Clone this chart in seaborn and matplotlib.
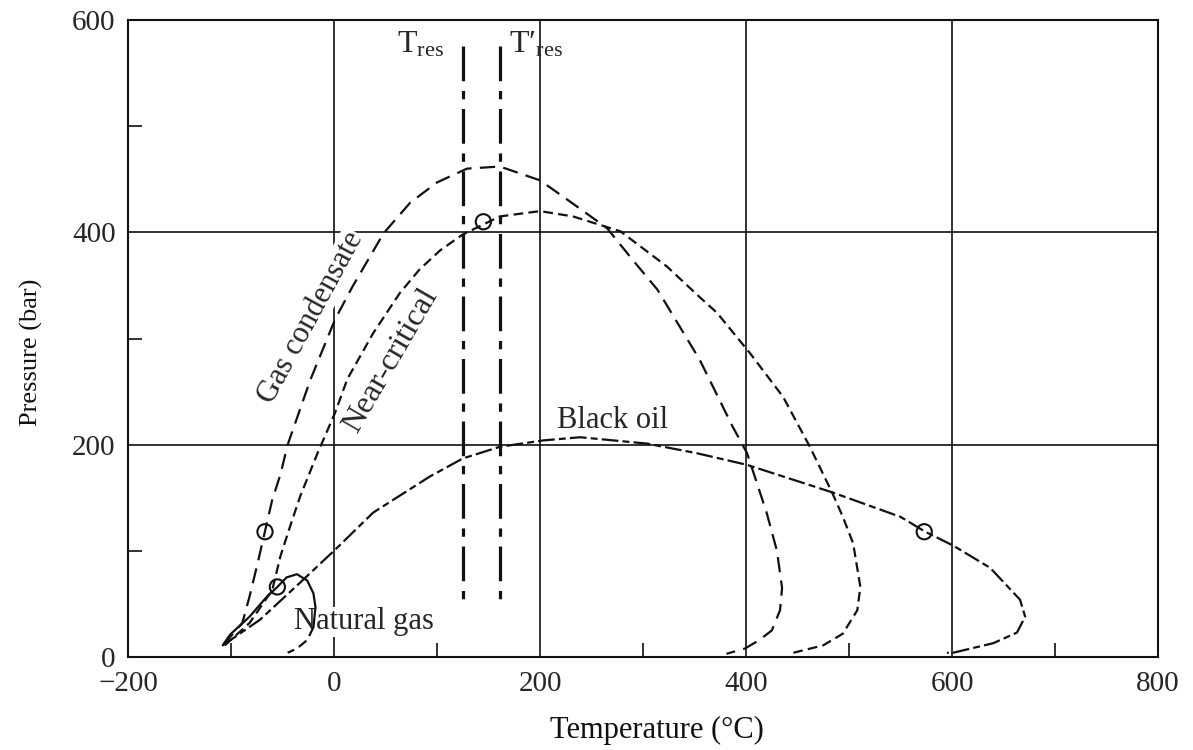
"""
Phase envelopes for different reservoir fluids (pressure vs temperature)
"""

import pandas as pd
import matplotlib.pyplot as plt
from matplotlib.ticker import MultipleLocator
import seaborn as sns

# curves (temperature in C, pressure in bar)
gc_temp = [-108, -89, -82, -74, -60, -52, -45, -23, 1, 18, 48, 74, 100, 129, 161, 200,
           232, 265, 290, 314, 355, 387, 401, 420, 430, 435, 433, 425, 413, 399, 381]
gc_pres = [11, 32, 57, 89, 148, 172, 200, 261, 318, 349, 399, 428, 447, 460, 462, 449,
           427, 404, 374, 346, 280, 217, 192, 136, 100, 65, 44, 25, 16, 8, 3]

nc_temp = [-106, -82, -60, -52, -43, -33, -16, 1, 13, 38, 64, 83, 103, 125, 161, 200,
           232, 278, 323, 355, 372, 404, 436, 462, 484, 494, 504, 511, 508, 494, 475, 446]
nc_pres = [11, 32, 63, 95, 122, 151, 192, 230, 262, 305, 343, 365, 383, 398, 415, 420,
           415, 401, 368, 339, 324, 286, 245, 198, 154, 132, 107, 66, 44, 22, 11, 4]

bo_temp = [-108, -72, -33, 1, 38, 93, 125, 161, 203, 239, 304, 352, 401, 484, 550,
           574, 601, 637, 666, 671, 663, 640, 601, 595]
bo_pres = [11, 35, 70, 101, 136, 170, 187, 198, 204, 207, 201, 192, 181, 155, 132,
           118, 105, 84, 54, 38, 23, 13, 4, 4]

ng_temp = [-108, -101, -82, -65, -55, -46, -36, -26, -20, -18, -20]
ng_pres = [11, 21, 38, 57, 66, 75, 78, 72, 60, 47, 28]
ng_tail_temp = [-20, -26, -36, -45]
ng_tail_pres = [28, 16, 8, 4]

crit_temp = [-67, -55, 145, 573]
crit_pres = [118, 66, 410, 118]

t_res = [125, 161]
t_res_pres = [576, 46]

sns.set_theme(style="white")
plt.rcParams["font.family"] = ["Liberation Serif", "DejaVu Serif"]
plt.rcParams["mathtext.default"] = "regular"
plt.rcParams["lines.scale_dashes"] = False

fig = plt.figure(figsize=(11.93, 7.5), dpi=100)
ax = fig.add_axes([0.1073, 0.124, 0.8634, 0.8493])

ink = "#111111"


def curve(x, y, dashes, lw=1.6):
    df = pd.DataFrame({"T": x, "P": y})
    sns.lineplot(data=df, x="T", y="P", sort=False, estimator=None, color=ink,
                 linewidth=lw, ax=ax)
    line = ax.lines[-1]
    line.set_zorder(3)
    if dashes is not None:
        line.set_dashes(dashes)
    return line


curve(gc_temp, gc_pres, (11, 6))
curve(nc_temp, nc_pres, (7, 3.8))
curve(bo_temp, bo_pres, (12, 3, 5, 3))
curve(ng_temp, ng_pres, None)
curve(ng_tail_temp, ng_tail_pres, (7, 4))

for t in t_res:
    curve([t, t], t_res_pres, (25, 7, 6, 7), lw=2.3)

sns.scatterplot(x=crit_temp, y=crit_pres, marker="o", s=120, facecolor="none",
                edgecolor=ink, linewidth=1.5, ax=ax, zorder=4)

# labels on the chart
box = dict(facecolor="white", edgecolor="none", pad=0.5)
ax.text(-22, 320, "Gas condensate", rotation=61.5, ha="center", va="center",
        fontsize=22, bbox=box, zorder=1.5)
ax.text(55, 279, "Near-critical", rotation=60, ha="center", va="center",
        fontsize=23, zorder=1.5)
ax.text(270, 223, "Black oil", ha="center", va="center", fontsize=22, zorder=1.5)
ax.text(29, 33, "Natural gas", ha="center", va="center", fontsize=22,
        bbox=box, zorder=1.5)
ax.text(84, 577, "T$_{res}$", ha="center", va="center", fontsize=23)
ax.text(196, 577, "T\u2032$_{res}$", ha="center", va="center", fontsize=23)

ax.set_xlim(-200, 800)
ax.set_ylim(0, 600)
ax.xaxis.set_major_locator(MultipleLocator(200))
ax.xaxis.set_minor_locator(MultipleLocator(100))
ax.yaxis.set_major_locator(MultipleLocator(200))
ax.yaxis.set_minor_locator(MultipleLocator(100))
ax.set_xticklabels([f"{int(v)}".replace("-", "\u2212") for v in ax.get_xticks()])
ax.set_yticklabels([f"{int(v)}" for v in ax.get_yticks()])
ax.set_xlim(-200, 800)
ax.set_ylim(0, 600)

ax.grid(True, which="major", color=ink, linewidth=1.2)
ax.set_axisbelow(True)
ax.tick_params(which="both", direction="in", bottom=True, left=True, top=False,
               right=False, color=ink, width=1.2, labelsize=21)
ax.tick_params(axis="x", pad=10)
ax.tick_params(axis="y", pad=9)
ax.tick_params(which="minor", length=10)
ax.tick_params(which="major", length=0)
for s in ax.spines.values():
    s.set_color(ink)
    s.set_linewidth(1.5)

ax.set_xlabel("Temperature (\u00b0C)", fontsize=22, color=ink)
ax.set_ylabel("Pressure (bar)", fontsize=19, color=ink)
ax.xaxis.set_label_coords(0.5136, -0.093)
ax.yaxis.set_label_coords(-0.083, 0.479)

plt.savefig("out.png", dpi=100)
